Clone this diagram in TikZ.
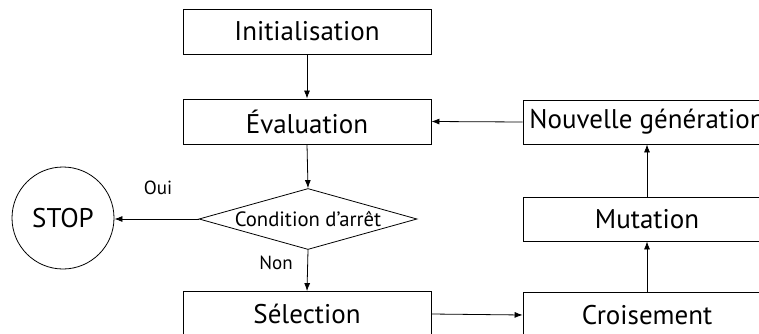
\documentclass[tikz,border=0pt]{standalone}
\usepackage{fontspec}
\setmainfont{PT Sans}
\usetikzlibrary{shapes.geometric,arrows.meta}
\tikzset{
  box/.style={draw, line width=0.8pt, minimum width=248pt, minimum height=45pt, inner sep=0pt, font=\fontsize{27}{30}\selectfont},
  cond/.style={draw, line width=0.8pt, diamond, aspect=3.57, minimum width=218pt, minimum height=61pt, inner sep=0pt, font=\fontsize{20.7}{24}\selectfont},
  stopc/.style={draw, line width=0.8pt, circle, minimum size=102pt, inner sep=0pt, font=\fontsize{27}{30}\selectfont},
  lbl/.style={font=\fontsize{19}{22}\selectfont, inner sep=0pt},
  arr/.style={draw, line width=0.8pt, -{Latex[length=8pt,width=6pt]}}
}
\begin{document}
\begin{tikzpicture}[x=1pt,y=-1pt]
\useasboundingbox (0,0) rectangle (759,334);
\begin{scope}
\clip (0,0) rectangle (759,334);
\node[box] (init) at (307,31.5) {Initialisation};
\node[box] (eval) at (307,121.5) {Évaluation};
\node[cond] (cond) at (308,219) {Condition d’arrêt};
\node[stopc] (stop) at (63,218) {STOP};
\node[box] (sel) at (307,314) {Sélection};
\node[box] (crois) at (647,315) {Croisement};
\node[box, minimum height=44pt] (mut) at (647,219) {Mutation};
\node[box, minimum height=44pt] (nouv) at (647,122) {Nouvelle génération};
\node[lbl] (oui) at (158,188) {Oui};
\node[lbl] (non) at (276,263) {Non};
\draw[arr] (init.south) -- (eval.north);
\draw[arr] (eval.south) -- (cond.north);
\draw[arr] (cond.west) -- (cond.west -| stop.east);
\draw[arr] (cond.south) -- (sel.north);
\draw[arr] (sel.east) -- (crois.west);
\draw[arr] (crois.north) -- (mut.south);
\draw[arr] (mut.north) -- (nouv.south);
\draw[arr] (nouv.west) -- (eval.east);
\end{scope}
\end{tikzpicture}
\end{document}
